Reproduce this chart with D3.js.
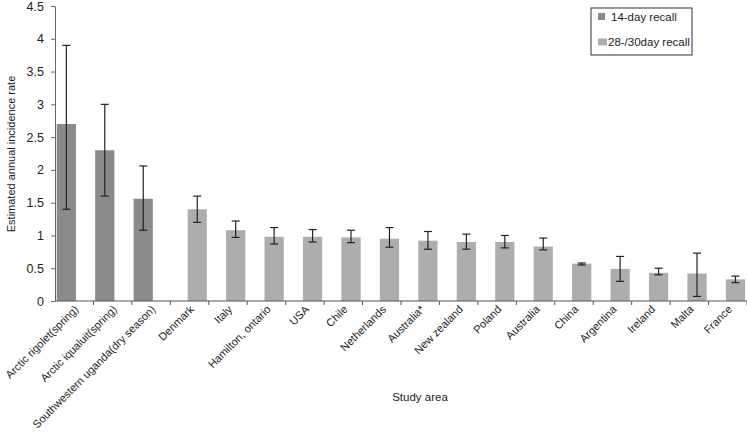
<!DOCTYPE html>
<html>
  <head>
    <meta http-equiv="Content-Type" content="text/html;charset=utf-8"/>
    <script src="https://cdn.jsdelivr.net/npm/d3@7"></script>
    <style>
      body { margin: 0; background: #fff; }
      text { font-family: "Liberation Sans", Arial, sans-serif; fill: #222; }
    </style>
  </head>
  <body>
    <script type="text/javascript">

var studies = ["Arctic rigolet(spring)", "Arctic iqualuit(spring)", "Southwestern uganda(dry season)",
  "Denmark", "Italy", "Hamilton, ontario", "USA", "Chile", "Netherlands", "Australia*",
  "New zealand", "Poland", "Australia", "China", "Argentina", "Ireland", "Malta", "France"];
var recall = ["14", "14", "14", "28", "28", "28", "28", "28", "28", "28",
  "28", "28", "28", "28", "28", "28", "28", "28"];
var rates = [2.7, 2.3, 1.56, 1.4, 1.08, 0.98, 0.98, 0.97, 0.95, 0.92, 0.9, 0.9, 0.83, 0.57, 0.49, 0.43, 0.42, 0.33];
var lower = [1.4, 1.6, 1.08, 1.2, 0.97, 0.87, 0.9, 0.89, 0.82, 0.79, 0.79, 0.81, 0.78, 0.55, 0.3, 0.4, 0.07, 0.28];
var upper = [3.9, 3.0, 2.06, 1.6, 1.22, 1.12, 1.09, 1.08, 1.12, 1.06, 1.02, 1.0, 0.96, 0.58, 0.68, 0.5, 0.73, 0.38];
var yTicks = [0, 0.5, 1, 1.5, 2, 2.5, 3, 3.5, 4, 4.5];
var legendItems = [{key: "14", label: "14-day recall"}, {key: "28", label: "28-/30day recall"}];

var colors = {"14": "#8a8a8c", "28": "#adadaf"};
var w = 747, h = 442;

var svg = d3.select("body").append("svg")
  .attr("width", w)
  .attr("height", h);

var x = d3.scaleBand().domain(studies).range([55, 747]);
var y = d3.scaleLinear().domain([0, 4.5]).range([301, 6]);

var barW = x.bandwidth() * 0.5;
// excel-style clustered bars: each series sits in its own slot of the band
var slot = {"14": 0.045, "28": 0.45};

var rows = studies.map(function(s, i) {
  return {name: s, rec: recall[i], v: rates[i], lo: lower[i], hi: upper[i]};
});

svg.selectAll("rect.bar").data(rows).enter().append("rect")
  .attr("class", "bar")
  .attr("x", function(d) { return x(d.name) + x.bandwidth() * slot[d.rec]; })
  .attr("y", function(d) { return y(d.v); })
  .attr("width", barW)
  .attr("height", function(d) { return y(0) - y(d.v); })
  .attr("fill", function(d) { return colors[d.rec]; });

// error bars
var err = svg.selectAll("g.err").data(rows).enter().append("g")
  .attr("class", "err")
  .attr("transform", function(d) {
    return "translate(" + (x(d.name) + x.bandwidth() * slot[d.rec] + barW / 2) + ",0)";
  })
  .attr("stroke", "#222")
  .attr("stroke-width", 1.2);
err.append("line").attr("y1", function(d) { return y(d.lo); }).attr("y2", function(d) { return y(d.hi); });
err.append("line").attr("x1", -4).attr("x2", 4)
  .attr("y1", function(d) { return y(d.hi); }).attr("y2", function(d) { return y(d.hi); });
err.append("line").attr("x1", -4).attr("x2", 4)
  .attr("y1", function(d) { return y(d.lo); }).attr("y2", function(d) { return y(d.lo); });

// y axis
var yAxis = svg.append("g")
  .attr("transform", "translate(55,0)")
  .call(d3.axisLeft(y).tickValues(yTicks).tickSizeInner(4).tickSizeOuter(0)
    .tickFormat(d3.format("~g")));
yAxis.select(".domain").attr("stroke", "#666");
yAxis.selectAll(".tick line").attr("stroke", "#666");
yAxis.selectAll(".tick text")
  .attr("x", -11)
  .style("font-size", "12.5px")
  .style("font-family", "'Liberation Sans', Arial, sans-serif")
  .attr("fill", "#222");

// x axis: baseline and ticks at the band edges
var xAxis = svg.append("g");
xAxis.append("line")
  .attr("x1", 55).attr("x2", 747)
  .attr("y1", y(0)).attr("y2", y(0))
  .attr("stroke", "#555");
var edges = d3.range(studies.length + 1).map(function(i) { return x.range()[0] + i * x.step(); });
xAxis.selectAll("line.tk").data(edges.slice(1)).enter().append("line")
  .attr("class", "tk")
  .attr("x1", function(d) { return d; }).attr("x2", function(d) { return d; })
  .attr("y1", y(0)).attr("y2", y(0) + 4)
  .attr("stroke", "#555");

xAxis.selectAll("text.lab").data(studies).enter().append("text")
  .attr("class", "lab")
  .attr("text-anchor", "end")
  .attr("transform", function(d) {
    return "translate(" + (x(d) + x.bandwidth() / 2 + 5) + ",310)rotate(-45)";
  })
  .style("font-size", "11px")
  .text(function(d) { return d; });

// axis titles
svg.append("text")
  .attr("x", 420).attr("y", 401)
  .attr("text-anchor", "middle")
  .style("font-size", "11.5px")
  .text("Study area");
svg.append("text")
  .attr("transform", "translate(15,154)rotate(-90)")
  .attr("text-anchor", "middle")
  .style("font-size", "11px")
  .text("Estimated annual incidence rate");

// legend
var lg = svg.append("g");
lg.append("rect")
  .attr("x", 591).attr("y", 8).attr("width", 101).attr("height", 47)
  .attr("fill", "#fff").attr("stroke", "#333").attr("stroke-width", 1);
var li = lg.selectAll("g.li").data(legendItems).enter().append("g")
  .attr("class", "li")
  .attr("transform", function(d, i) { return "translate(598," + (16.5 + i * 25.5) + ")"; });
li.append("rect")
  .attr("x", 0).attr("y", -3.5)
  .attr("width", function(d, i) { return i ? 9 : 7; }).attr("height", 7)
  .attr("fill", function(d) { return colors[d.key]; });
li.append("text")
  .attr("x", function(d, i) { return i ? 10 : 13; })
  .attr("dy", "0.35em")
  .style("font-size", "11.5px")
  .text(function(d) { return d.label; });
    </script>
  </body>
</html>
